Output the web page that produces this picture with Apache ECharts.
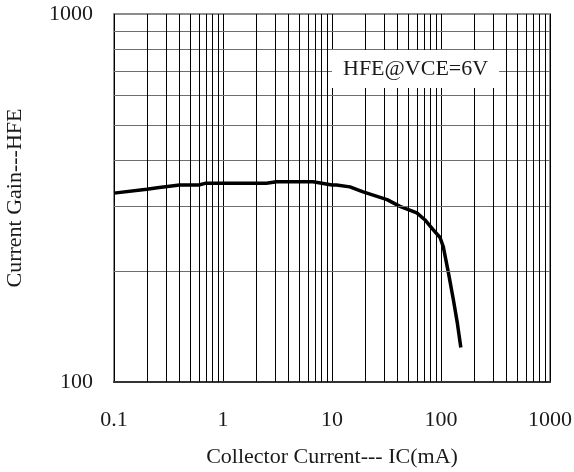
<!DOCTYPE html>
<html>
<head>
<meta charset="utf-8">
<script src="https://cdn.jsdelivr.net/npm/echarts@6/dist/echarts.min.js"></script>
<style>
html,body{margin:0;padding:0;background:#fff;}
#chart{width:574px;height:472px;}
</style>
</head>
<body>
<div id="chart"></div>
<script>
// Collector current IC (mA)
var icValues = [0.1, 0.2, 0.25, 0.4, 0.6, 0.7, 2.5, 3.1, 6.7, 10, 11, 14.6, 19, 32, 42, 60, 71, 85, 98, 105, 117, 130, 141, 152];
// Current gain HFE
var hfeValues = [326, 334, 337, 343, 343, 347, 347, 350, 350, 343, 343, 339, 329, 313, 300, 288, 276, 259, 247, 233, 198, 167, 145, 124];
var xTickLabels = ['0.1', '1', '10', '100', '1000'];
var yTickLabels = ['100', '1000'];
var xDecades = [0.1, 1, 10, 100];
var yDecades = [100];
var minorMultipliers = [2, 3, 4, 5, 6, 7, 8, 9];
var annotationText = 'HFE@VCE=6V';
var xAxisName = 'Collector Current--- IC(mA)';
var yAxisName = 'Current Gain---HFE';

var FONT = '"Liberation Serif", "DejaVu Serif", serif';

var seriesData = icValues.map(function (x, i) { return [x, hfeValues[i]]; });

var vLines = [];
xDecades.forEach(function (d) {
  minorMultipliers.forEach(function (m) {
    vLines.push({ xAxis: +(d * m).toPrecision(6), lineStyle: { color: '#000', width: 1, type: 'solid' } });
  });
});
var hLines = [];
yDecades.forEach(function (d) {
  minorMultipliers.forEach(function (m) {
    hLines.push({ yAxis: d * m, lineStyle: { color: '#6e6e6e', width: 1, type: 'solid' } });
  });
});

var chart = echarts.init(document.getElementById('chart'), null, { renderer: 'canvas' });
chart.setOption({
  animation: false,
  backgroundColor: '#fff',
  grid: { left: 114, right: 24, top: 14, bottom: 90, show: true, borderColor: '#8c8c8c', borderWidth: 2, backgroundColor: 'transparent', containLabel: false, outerBoundsMode: 'none' },
  title: {
    text: annotationText,
    left: 332, top: 50,
    backgroundColor: '#fff',
    padding: [8, 11, 8, 11],
    textStyle: { fontFamily: FONT, fontSize: 22, fontWeight: 'normal', color: '#1a1a1a', lineHeight: 22 },
    z: 10
  },
  xAxis: {
    type: 'log', logBase: 10, min: 0.1, max: 1000,
    name: xAxisName, nameLocation: 'middle', nameGap: 64,
    nameTextStyle: { fontFamily: FONT, fontSize: 22, color: '#1a1a1a' },
    axisLine: { show: true, lineStyle: { color: '#333', width: 2 } },
    axisTick: { show: false },
    axisLabel: {
      fontFamily: FONT, fontSize: 22, color: '#1a1a1a', margin: 27,
      formatter: function (v) {
        var idx = Math.round(Math.log10(v) + 1);
        return xTickLabels[idx] !== undefined ? xTickLabels[idx] : '';
      }
    },
    splitLine: { show: true, lineStyle: { color: '#000', width: 1 } }
  },
  yAxis: {
    type: 'log', logBase: 10, min: 100, max: 1000,
    name: yAxisName, nameLocation: 'middle', nameGap: 88,
    nameTextStyle: { fontFamily: FONT, fontSize: 22, color: '#1a1a1a' },
    axisLine: { show: false },
    axisTick: { show: false },
    axisLabel: {
      fontFamily: FONT, fontSize: 22, color: '#1a1a1a', margin: 21,
      formatter: function (v) {
        var idx = Math.round(Math.log10(v) - 2);
        return yTickLabels[idx] !== undefined ? yTickLabels[idx] : '';
      }
    },
    splitLine: { show: false }
  },
  series: [
    {
      type: 'line', data: [], z: 1, silent: true,
      markLine: {
        silent: true, symbol: ['none', 'none'], label: { show: false },
        emphasis: { disabled: true },
        data: hLines.concat(vLines)
      }
    },
    {
      type: 'line', data: seriesData, z: 3, smooth: false,
      showSymbol: false, symbol: 'none',
      lineStyle: { color: '#000', width: 3.5 }
    }
  ]
});
</script>
</body>
</html>
